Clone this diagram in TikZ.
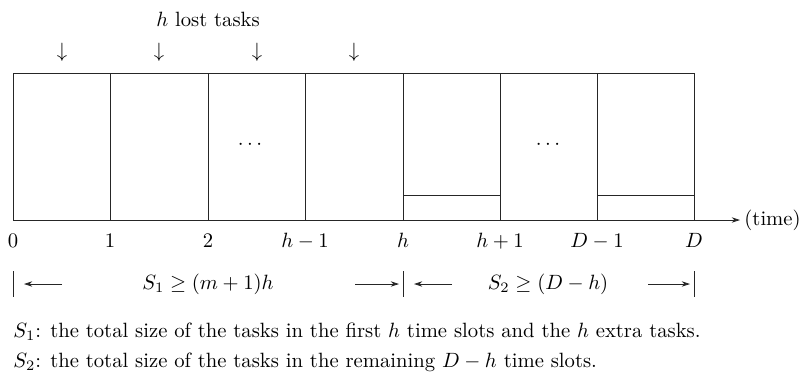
\documentclass[tikz,border=0pt]{standalone}
\usetikzlibrary{arrows.meta}
\begin{document}
\begin{tikzpicture}[x=0.484pt,y=-0.484pt,
  ln/.style={line width=0.4pt,draw=black!85},
  arr/.style={ln,-{Stealth[length=4pt,width=2.6pt]}},
  lbl/.style={inner sep=0pt,anchor=base}]
\useasboundingbox (0,0) rectangle (807,378);
% boxes
\draw[ln] (13,73) rectangle (694,220);
\foreach \x in {110,208,305,403,500,597}
  \draw[ln] (\x,73) -- (\x,220);
\draw[ln] (403,195) -- (500,195);
\draw[ln] (597,195) -- (694,195);
% axis
\coordinate (ax0) at (694,220);
\coordinate (ax1) at (740,220);
\draw[arr] (ax0) -- (ax1);
\node[anchor=west,inner sep=0pt] (time) at (744,220) {(time)};
% dots
\node (d1) at (250,145) {$\cdots$};
\node (d2) at (548,145) {$\cdots$};
% tick labels
\node[lbl] (t0) at (13,247) {$0$};
\node[lbl] (t1) at (110,247) {$1$};
\node[lbl] (t2) at (208,247) {$2$};
\node[lbl] (t3) at (305,247) {$h-1$};
\node[lbl] (t4) at (403,247) {$h$};
\node[lbl] (t5) at (500,247) {$h+1$};
\node[lbl] (t6) at (597,247) {$D-1$};
\node[lbl] (t7) at (694,247) {$D$};
% lost tasks
\node[lbl] (lost) at (208,26) {$h$ lost tasks};
\foreach \x/\n in {62/a,159/b,257/c,354/d}
  \node (arr\n) at (\x,52) {$\downarrow$};
% bottom brackets
\foreach \x/\n in {13/b0,403/b1,694/b2}{
  \coordinate (\n t) at (\x,271);
  \coordinate (\n b) at (\x,297);
  \draw[ln] (\n t) -- (\n b);}
\node (s1) at (208,284) {$S_1 \geq (m+1)h$};
\node (s2) at (548,284) {$S_2 \geq (D-h)$};
\coordinate (l1s) at (62,284); \coordinate (l1e) at (24,284);
\coordinate (r1s) at (355,284); \coordinate (r1e) at (399,284);
\coordinate (l2s) at (452,284); \coordinate (l2e) at (414,284);
\coordinate (r2s) at (648,284); \coordinate (r2e) at (690,284);
\draw[arr] (l1s) -- (l1e);
\draw[arr] (r1s) -- (r1e);
\draw[arr] (l2s) -- (l2e);
\draw[arr] (r2s) -- (r2e);
% notes
\node[anchor=base west,inner sep=0pt] (n1) at (13,337) {$S_1$: the total size of the tasks in the first $h$ time slots and the $h$ extra tasks.};
\node[anchor=base west,inner sep=0pt] (n2) at (13,367) {$S_2$: the total size of the tasks in the remaining $D-h$ time slots.};
\end{tikzpicture}
\end{document}
